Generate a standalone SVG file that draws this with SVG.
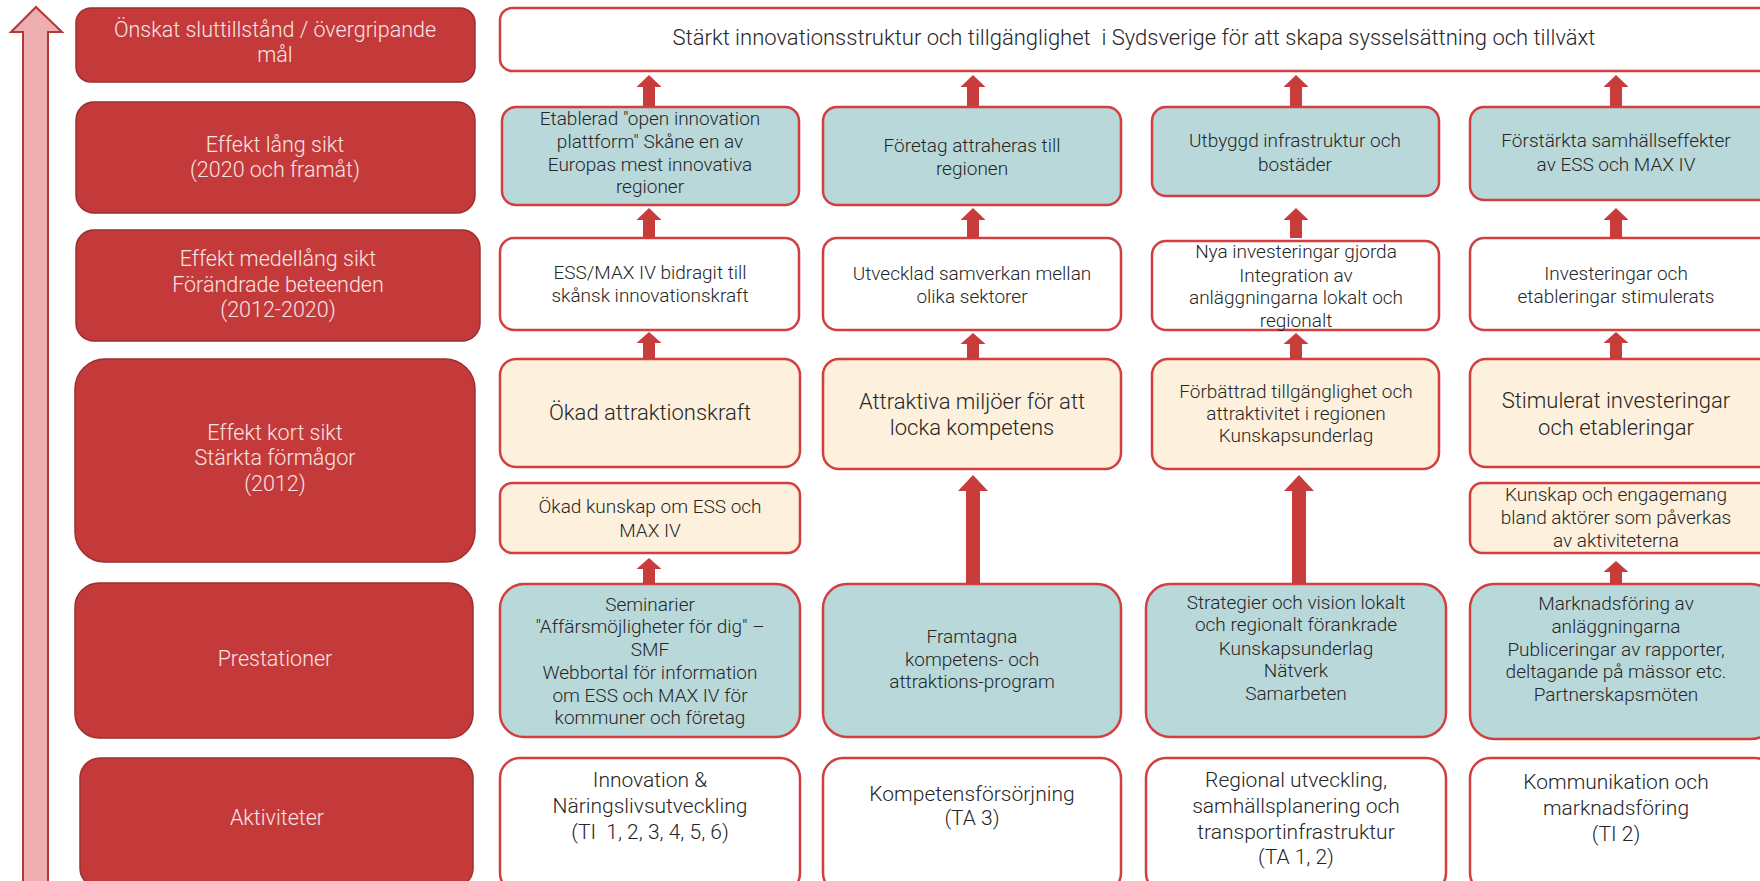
<svg xmlns="http://www.w3.org/2000/svg" width="1760" height="881" viewBox="0 0 1760 881">
<style>
.hdr{fill:#c43a3a;stroke:#9c2f2f;stroke-width:1.5}
.hdr-t{fill:#f6e4e4;font-family:"Roboto",sans-serif;font-weight:300;font-size:21.5px;text-anchor:middle}
.bx{stroke:#d23f3f;stroke-width:2.5}
.teal{fill:#b9d8da}
.cream{fill:#fdf0dc}
.white{fill:#ffffff}
.t{fill:#262626;font-family:"Roboto",sans-serif;font-weight:300;font-size:19px;text-anchor:middle}
.tl{fill:#262626;font-family:"Roboto",sans-serif;font-weight:300;font-size:21px;text-anchor:middle}
.tx{fill:#262626;font-family:"Roboto",sans-serif;font-weight:300;font-size:22px;text-anchor:middle}
.arr{fill:#c93c3c}
</style>
<rect width="1760" height="881" fill="#ffffff"/>

<g id="timeline-arrow">
<path d="M36,7 L62,32 L48,32 L48,884 L23,884 L23,32 L11,32 Z" fill="#ecaeae" stroke="#b23838" stroke-width="2"/>
</g>

<g id="h-goal"><rect class="hdr" x="76" y="8" width="399" height="74" rx="15"/>
<text class="hdr-t" x="275" y="37">Önskat sluttillstånd / övergripande</text>
<text class="hdr-t" x="275" y="62">mål</text></g>
<g id="h-long"><rect class="hdr" x="76" y="102" width="399" height="111" rx="18"/>
<text class="hdr-t" x="275" y="152">Effekt lång sikt</text>
<text class="hdr-t" x="275" y="177">(2020 och framåt)</text></g>
<g id="h-mid"><rect class="hdr" x="76" y="230" width="404" height="111" rx="18"/>
<text class="hdr-t" x="278" y="266">Effekt medellång sikt</text>
<text class="hdr-t" x="278" y="292">Förändrade beteenden</text>
<text class="hdr-t" x="278" y="317">(2012-2020)</text></g>
<g id="h-short"><rect class="hdr" x="75" y="359" width="400" height="203" rx="30"/>
<text class="hdr-t" x="275" y="440">Effekt kort sikt</text>
<text class="hdr-t" x="275" y="465">Stärkta förmågor</text>
<text class="hdr-t" x="275" y="491">(2012)</text></g>
<g id="h-prest"><rect class="hdr" x="75" y="583" width="398" height="155" rx="24"/>
<text class="hdr-t" x="275" y="666">Prestationer</text></g>
<g id="h-akt"><rect class="hdr" x="80" y="758" width="393" height="130" rx="20"/>
<text class="hdr-t" x="277" y="825">Aktiviteter</text></g>

<g id="goal"><rect class="bx white" x="500" y="8" width="1275" height="63" rx="12"/>
<text class="tx" x="1134" y="45" xml:space="preserve">Stärkt innovationsstruktur och tillgänglighet  i Sydsverige för att skapa sysselsättning och tillväxt</text></g>

<g id="l1"><rect class="bx teal" x="502" y="107" width="297" height="98" rx="14"/>
<text class="t" x="650" y="125">Etablerad "open innovation</text>
<text class="t" x="650" y="148">plattform" Skåne en av</text>
<text class="t" x="650" y="171">Europas mest innovativa</text>
<text class="t" x="650" y="193">regioner</text></g>
<g id="l2"><rect class="bx teal" x="823" y="107" width="298" height="98" rx="14"/>
<text class="t" x="972" y="152">Företag attraheras till</text>
<text class="t" x="972" y="175">regionen</text></g>
<g id="l3"><rect class="bx teal" x="1152" y="107" width="287" height="89" rx="14"/>
<text class="t" x="1295" y="147">Utbyggd infrastruktur och</text>
<text class="t" x="1295" y="171">bostäder</text></g>
<g id="l4"><rect class="bx teal" x="1470" y="107" width="305" height="93" rx="14"/>
<text class="t" x="1616" y="147">Förstärkta samhällseffekter</text>
<text class="t" x="1616" y="171">av ESS och MAX IV</text></g>

<g id="m1"><rect class="bx white" x="500" y="238" width="299" height="92" rx="14"/>
<text class="t" x="650" y="279">ESS/MAX IV bidragit till</text>
<text class="t" x="650" y="302">skånsk innovationskraft</text></g>
<g id="m2"><rect class="bx white" x="823" y="238" width="298" height="92" rx="14"/>
<text class="t" x="972" y="280">Utvecklad samverkan mellan</text>
<text class="t" x="972" y="303">olika sektorer</text></g>
<g id="m3"><rect class="bx white" x="1152" y="241" width="287" height="89" rx="14"/>
<text class="t" x="1296" y="258">Nya investeringar gjorda</text>
<text class="t" x="1296" y="282">Integration av</text>
<text class="t" x="1296" y="304">anläggningarna lokalt och</text>
<text class="t" x="1296" y="327">regionalt</text></g>
<g id="m4"><rect class="bx white" x="1470" y="238" width="305" height="92" rx="14"/>
<text class="t" x="1616" y="280">Investeringar och</text>
<text class="t" x="1616" y="303">etableringar stimulerats</text></g>

<g id="s1"><rect class="bx cream" x="500" y="359" width="300" height="108" rx="16"/>
<text class="tx" x="650" y="420">Ökad attraktionskraft</text></g>
<g id="s2"><rect class="bx cream" x="823" y="359" width="298" height="110" rx="16"/>
<text class="tx" x="972" y="409">Attraktiva miljöer för att</text>
<text class="tx" x="972" y="435">locka kompetens</text></g>
<g id="s3"><rect class="bx cream" x="1152" y="359" width="287" height="110" rx="16"/>
<text class="t" x="1296" y="398">Förbättrad tillgänglighet och</text>
<text class="t" x="1296" y="420">attraktivitet i regionen</text>
<text class="t" x="1296" y="442">Kunskapsunderlag</text></g>
<g id="s4"><rect class="bx cream" x="1470" y="359" width="305" height="108" rx="16"/>
<text class="tx" x="1616" y="408">Stimulerat investeringar</text>
<text class="tx" x="1616" y="435">och etableringar</text></g>
<g id="s1b"><rect class="bx cream" x="500" y="483" width="300" height="70" rx="12"/>
<text class="t" x="650" y="513">Ökad kunskap om ESS och</text>
<text class="t" x="650" y="537">MAX IV</text></g>
<g id="s4b"><rect class="bx cream" x="1470" y="483" width="305" height="70" rx="12"/>
<text class="t" x="1616" y="501">Kunskap och engagemang</text>
<text class="t" x="1616" y="524">bland aktörer som påverkas</text>
<text class="t" x="1616" y="547">av aktiviteterna</text></g>

<g id="p1"><rect class="bx teal" x="500" y="584" width="300" height="153" rx="24"/>
<text class="t" x="650" y="611">Seminarier</text>
<text class="t" x="650" y="633">"Affärsmöjligheter för dig" –</text>
<text class="t" x="650" y="656">SMF</text>
<text class="t" x="650" y="679">Webbortal för information</text>
<text class="t" x="650" y="702">om ESS och MAX IV för</text>
<text class="t" x="650" y="724">kommuner och företag</text></g>
<g id="p2"><rect class="bx teal" x="823" y="584" width="298" height="153" rx="24"/>
<text class="t" x="972" y="643">Framtagna</text>
<text class="t" x="972" y="666">kompetens- och</text>
<text class="t" x="972" y="688">attraktions-program</text></g>
<g id="p3"><rect class="bx teal" x="1146" y="584" width="300" height="153" rx="24"/>
<text class="t" x="1296" y="609">Strategier och vision lokalt</text>
<text class="t" x="1296" y="631">och regionalt förankrade</text>
<text class="t" x="1296" y="655">Kunskapsunderlag</text>
<text class="t" x="1296" y="677">Nätverk</text>
<text class="t" x="1296" y="700">Samarbeten</text></g>
<g id="p4"><rect class="bx teal" x="1470" y="584" width="305" height="155" rx="24"/>
<text class="t" x="1616" y="610">Marknadsföring av</text>
<text class="t" x="1616" y="633">anläggningarna</text>
<text class="t" x="1616" y="656">Publiceringar av rapporter,</text>
<text class="t" x="1616" y="678">deltagande på mässor etc.</text>
<text class="t" x="1616" y="701">Partnerskapsmöten</text></g>

<g id="a1"><rect class="bx white" x="500" y="758" width="300" height="135" rx="20"/>
<text class="tl" x="650" y="787">Innovation &amp;</text>
<text class="tl" x="650" y="813">Näringslivsutveckling</text>
<text class="tl" x="650" y="839" xml:space="preserve">(TI  1, 2, 3, 4, 5, 6)</text></g>
<g id="a2"><rect class="bx white" x="823" y="758" width="298" height="135" rx="20"/>
<text class="tl" x="972" y="801">Kompetensförsörjning</text>
<text class="tl" x="972" y="825">(TA 3)</text></g>
<g id="a3"><rect class="bx white" x="1146" y="758" width="300" height="135" rx="20"/>
<text class="tl" x="1296" y="787">Regional utveckling,</text>
<text class="tl" x="1296" y="813">samhällsplanering och</text>
<text class="tl" x="1296" y="839">transportinfrastruktur</text>
<text class="tl" x="1296" y="864">(TA 1, 2)</text></g>
<g id="a4"><rect class="bx white" x="1470" y="758" width="305" height="135" rx="20"/>
<text class="tl" x="1616" y="789">Kommunikation och</text>
<text class="tl" x="1616" y="815">marknadsföring</text>
<text class="tl" x="1616" y="841">(TI 2)</text></g>

<g id="connectors" class="arr">
<path d="M649,75 l12.5,12 h-6.5 v19 h-12 v-19 h-6.5 Z"/>
<path d="M973,75 l12.5,12 h-6.5 v19 h-12 v-19 h-6.5 Z"/>
<path d="M1296,75 l12.5,12 h-6.5 v19 h-12 v-19 h-6.5 Z"/>
<path d="M1616,75 l12.5,12 h-6.5 v19 h-12 v-19 h-6.5 Z"/>
<path d="M649,208 l12.5,12 h-6.5 v18 h-12 v-18 h-6.5 Z"/>
<path d="M973,208 l12.5,12 h-6.5 v18 h-12 v-18 h-6.5 Z"/>
<path d="M1296,208 l12.5,12 h-6.5 v18 h-12 v-18 h-6.5 Z"/>
<path d="M1616,208 l12.5,12 h-6.5 v18 h-12 v-18 h-6.5 Z"/>
<path d="M649,332 l12.5,11 h-6.5 v16 h-12 v-16 h-6.5 Z"/>
<path d="M973,333 l12.5,11 h-6.5 v15 h-12 v-15 h-6.5 Z"/>
<path d="M1296,333 l12.5,11 h-6.5 v15 h-12 v-15 h-6.5 Z"/>
<path d="M1616,332 l12.5,11 h-6.5 v16 h-12 v-16 h-6.5 Z"/>
<path d="M649,558 l12.5,11 h-6.5 v15 h-12 v-15 h-6.5 Z"/>
<path d="M1616,561 l12.5,11 h-6.5 v12 h-12 v-12 h-6.5 Z"/>
<path d="M973,475 l15,16 h-8 v93 h-14 v-93 h-8 Z"/>
<path d="M1299,475 l15,16 h-8 v93 h-14 v-93 h-8 Z"/>
</g>
</svg>
